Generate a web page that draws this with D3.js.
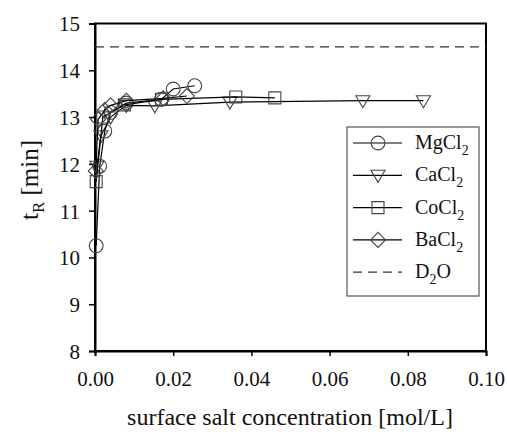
<!DOCTYPE html>
<html>
<head>
<meta charset="utf-8">
<script src="https://cdn.jsdelivr.net/npm/d3@7"></script>
<style>
  body { margin: 0; background: #fff; }
</style>
</head>
<body>
<svg id="chart" width="507" height="432" font-family="Liberation Serif, Times New Roman, DejaVu Serif, serif"></svg>
<script>
// data
const mgX = [0.0003, 0.0012, 0.0025, 0.004, 0.008, 0.017, 0.020, 0.0255];
const mgY = [10.25, 11.95, 12.7, 13.1, 13.3, 13.38, 13.6, 13.67];
const caX = [0.0005, 0.0015, 0.004, 0.008, 0.0153, 0.0345, 0.0685, 0.084];
const caY = [11.95, 12.6, 13.0, 13.25, 13.24, 13.32, 13.35, 13.35];
const coX = [0.0003, 0.002, 0.0075, 0.017, 0.036, 0.046];
const coY = [11.62, 13.0, 13.26, 13.38, 13.43, 13.41];
const baX = [0.0002, 0.0008, 0.0025, 0.004, 0.008, 0.0175, 0.0235];
const baY = [11.85, 12.95, 13.15, 13.25, 13.35, 13.4, 13.45];
const d2oY = 14.5;
const xTicks = [0, 0.02, 0.04, 0.06, 0.08, 0.1];
const yTicks = [8, 9, 10, 11, 12, 13, 14, 15];
const seriesNames = ['MgCl', 'CaCl', 'CoCl', 'BaCl'];

const serif = 'Liberation Serif, Times New Roman, DejaVu Serif, serif';
const svg = d3.select('#chart');
const x = d3.scaleLinear().domain([0, 0.1]).range([95, 486]);
const y = d3.scaleLinear().domain([8, 15]).range([351, 23.5]);

// frame
svg.append('rect')
    .attr('x', x(0)).attr('y', y(15))
    .attr('width', x(0.1) - x(0)).attr('height', y(8) - y(15))
    .attr('fill', 'none').attr('stroke', '#000').attr('stroke-width', 2);

let xAxis = svg.append('g')
    .attr('transform', 'translate(0,' + y(8) + ')')
    .call(d3.axisBottom(x).tickValues(xTicks).tickFormat(d3.format('.2f')).tickSize(5).tickPadding(14));
let yAxis = svg.append('g')
    .attr('transform', 'translate(' + x(0) + ',0)')
    .call(d3.axisLeft(y).tickValues(yTicks).tickFormat(d3.format('d')).tickSize(6).tickPadding(9));
[xAxis, yAxis].forEach(a => {
    a.attr('font-family', serif).attr('font-size', 21);
    a.select('.domain').attr('stroke', '#000').attr('stroke-width', 2);
    a.selectAll('.tick line').attr('stroke', '#000').attr('stroke-width', 1.5);
    a.selectAll('text').attr('fill', '#111');
});
xAxis.selectAll('text').attr('dy', '0.75em');
yAxis.selectAll('text').attr('dy', '0.35em');

// D2O reference
svg.append('line')
    .attr('x1', x(0)).attr('x2', x(0.1))
    .attr('y1', y(d2oY)).attr('y2', y(d2oY))
    .attr('stroke', '#333').attr('stroke-width', 1.2)
    .attr('stroke-dasharray', '9,6');

function markerPath(kind) {
    if (kind === 'circle') return d3.symbol(d3.symbolCircle, 150)();
    if (kind === 'square') return 'M-6,-6H6V6H-6Z';
    if (kind === 'tri') return 'M-7,-5H7L0,7Z';
    return 'M0,-7.5L7.5,0L0,7.5L-7.5,0Z';
}

const series = [
    { xs: mgX, ys: mgY, kind: 'circle' },
    { xs: caX, ys: caY, kind: 'tri' },
    { xs: coX, ys: coY, kind: 'square' },
    { xs: baX, ys: baY, kind: 'diamond' }
];

const line = d3.line().x(d => x(d[0])).y(d => y(d[1]));
series.forEach(s => {
    let pts = s.xs.map((v, i) => [v, s.ys[i]]);
    svg.append('path')
        .attr('d', line(pts))
        .attr('fill', 'none').attr('stroke', '#000').attr('stroke-width', 1.2);
    svg.selectAll(null).data(pts).enter()
        .append('path')
        .attr('d', markerPath(s.kind))
        .attr('transform', d => 'translate(' + x(d[0]) + ',' + y(d[1]) + ')')
        .attr('fill', 'none').attr('stroke', '#444').attr('stroke-width', 1.1);
});

// legend
let lg = svg.append('g').attr('font-family', serif).attr('fill', '#111');
lg.append('rect')
    .attr('x', 347).attr('y', 127).attr('width', 132).attr('height', 169)
    .attr('fill', '#fff').attr('stroke', '#555').attr('stroke-width', 1.2);
series.forEach((s, i) => {
    let ly = 143 + i * 32.3;
    lg.append('line').attr('x1', 353).attr('x2', 402).attr('y1', ly).attr('y2', ly)
        .attr('stroke', '#000').attr('stroke-width', 1.2);
    lg.append('path').attr('d', markerPath(s.kind))
        .attr('transform', 'translate(378,' + ly + ')')
        .attr('fill', 'none').attr('stroke', '#444').attr('stroke-width', 1.1);
    let t = lg.append('text').attr('x', 415).attr('y', ly + 6).attr('font-size', 20);
    t.append('tspan').text(seriesNames[i]);
    t.append('tspan').attr('dy', 6).attr('font-size', 14).text('2');
});
let dy5 = 143 + 4 * 32.3;
lg.append('line').attr('x1', 353).attr('x2', 402).attr('y1', dy5).attr('y2', dy5)
    .attr('stroke', '#333').attr('stroke-width', 1.2).attr('stroke-dasharray', '9,6');
let dt = lg.append('text').attr('x', 415).attr('y', dy5 + 6).attr('font-size', 20);
dt.append('tspan').text('D');
dt.append('tspan').attr('dy', 6).attr('font-size', 14).text('2');
dt.append('tspan').attr('dy', -6).text('O');

// axis titles
svg.append('text')
    .attr('x', 290).attr('y', 425)
    .attr('font-family', serif).attr('fill', '#111')
    .attr('text-anchor', 'middle').attr('font-size', 24)
    .text('surface salt concentration [mol/L]');

let yt = svg.append('text')
    .attr('transform', 'translate(38,180) rotate(-90)')
    .attr('font-family', serif).attr('fill', '#111')
    .attr('text-anchor', 'middle').attr('font-size', 25);
yt.append('tspan').text('t');
yt.append('tspan').attr('dy', 6).attr('font-size', 17).text('R');
yt.append('tspan').attr('dy', -6).text(' [min]');
</script>
</body>
</html>
